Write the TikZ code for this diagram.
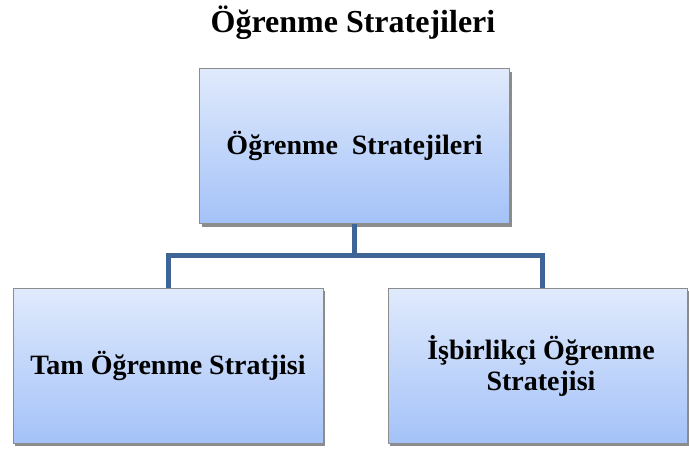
\documentclass[tikz,border=0pt]{standalone}
\usepackage{fontspec}
\setmainfont{Liberation Serif}
\usetikzlibrary{shadows,calc}
\definecolor{boxtop}{HTML}{E0EAFC}
\definecolor{boxbot}{HTML}{A4C2F8}
\definecolor{linkc}{HTML}{3E6596}
\definecolor{edgec}{HTML}{8C8C8C}
\tikzset{
  stratbox/.style={draw=edgec, line width=0.8pt, top color=boxtop, bottom color=boxbot,
    align=center, font=\bfseries\fontsize{28}{31}\selectfont,
    drop shadow={shadow xshift=2pt, shadow yshift=-3pt, fill=black, opacity=0.45}},
  link/.style={draw=linkc, line width=5pt, line join=miter}
}
\begin{document}
\begin{tikzpicture}[x=1pt,y=-1pt]
\useasboundingbox (0,0) rectangle (689,448);
\node[font=\bfseries\fontsize{32}{35}\selectfont] (title) at (353,23) {Öğrenme Stratejileri};
\node[stratbox, minimum width=310pt, minimum height=155pt] (top) at (354.5,146) {Öğrenme\ \ Stratejileri};
\node[stratbox, minimum width=310pt, minimum height=155pt] (left) at (168,365.5) {Tam Öğrenme Stratjisi};
\node[stratbox, minimum width=299pt, minimum height=155pt] (right) at (537.5,365.5) {\hspace*{7pt}İşbirlikçi Öğrenme\\\hspace*{7pt}Stratejisi};
\coordinate (mid) at (354.5,255.5);
\draw[link] (top.south) -- (mid) -| (left.north);
\draw[link] (mid) -| ($(right.north)+(5,0)$);
\end{tikzpicture}
\end{document}
